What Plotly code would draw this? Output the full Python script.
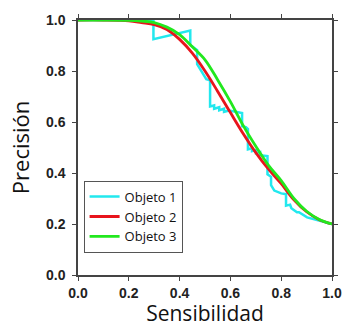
import plotly.graph_objects as go

# ---- data ----
series_names = ["Objeto 1", "Objeto 2", "Objeto 3"]
series_colors = ["#22e8ee", "#e8141c", "#22e81e"]

obj1_x = [0.0, 0.297, 0.297, 0.414, 0.442, 0.442, 0.469, 0.469, 0.489, 0.505, 0.520,
          0.520, 0.536, 0.536, 0.556, 0.556, 0.575, 0.575, 0.595, 0.638, 0.646,
          0.646, 0.661, 0.669, 0.669, 0.685, 0.685, 0.701, 0.701, 0.717, 0.717, 0.746,
          0.746, 0.760, 0.760, 0.773, 0.800, 0.819, 0.819, 0.835, 0.840, 0.862, 0.870,
          0.902, 0.945, 1.0]
obj1_y = [1.0, 1.0, 0.925, 0.953, 0.959, 0.902, 0.882, 0.827, 0.796, 0.768, 0.764,
          0.661, 0.665, 0.652, 0.658, 0.646, 0.652, 0.640, 0.645, 0.639, 0.635,
          0.583, 0.580, 0.572, 0.493, 0.497, 0.486, 0.490, 0.478, 0.482, 0.470, 0.466,
          0.395, 0.385, 0.352, 0.331, 0.320, 0.317, 0.272, 0.276, 0.262, 0.246, 0.246,
          0.226, 0.214, 0.2]

smooth_x = [0.0, 0.1, 0.2, 0.25, 0.3, 0.35, 0.4, 0.45, 0.5, 0.55, 0.6, 0.65, 0.7,
            0.75, 0.8, 0.85, 0.9, 0.95, 1.0]
obj2_y = [1.0, 1.0, 0.997, 0.99, 0.982, 0.963, 0.924, 0.87, 0.80, 0.72, 0.637, 0.555,
          0.48, 0.415, 0.358, 0.295, 0.248, 0.217, 0.2]
obj3_y = [1.0, 1.0, 0.999, 0.996, 0.99, 0.972, 0.943, 0.895, 0.844, 0.765, 0.68, 0.587,
          0.505, 0.43, 0.37, 0.30, 0.25, 0.218, 0.2]

tick_vals = [0.0, 0.2, 0.4, 0.6, 0.8, 1.0]
tick_text = ["0.0", "0.2", "0.4", "0.6", "0.8", "1.0"]
x_title = "Sensibilidad"
y_title = "Precisión"

fig = go.Figure()
fig.add_trace(go.Scatter(x=obj1_x, y=obj1_y, mode="lines", name=series_names[0],
                         line=dict(color=series_colors[0], width=2.5)))
fig.add_trace(go.Scatter(x=smooth_x, y=obj2_y, mode="lines", name=series_names[1],
                         line=dict(color=series_colors[1], width=2.8, shape="spline")))
fig.add_trace(go.Scatter(x=smooth_x, y=obj3_y, mode="lines", name=series_names[2],
                         line=dict(color=series_colors[2], width=2.8, shape="spline")))

axis_common = dict(
    range=[0, 1], tickvals=tick_vals, ticktext=tick_text,
    showgrid=False, zeroline=False, automargin=False,
    showline=True, linecolor="#444", linewidth=1.5, mirror="allticks",
    ticks="outside", ticklen=4, tickcolor="#444", tickwidth=1,
    tickfont=dict(family="Liberation Sans", size=14, color="#222", weight="bold"),
)

fig.update_layout(
    width=343, height=327,
    margin=dict(l=78, r=11, t=20, b=52),
    paper_bgcolor="white", plot_bgcolor="white",
    xaxis=dict(**axis_common, ticklabelstandoff=0,
               title=dict(text=x_title, font=dict(family="Open Sans", size=21, color="#111"),
                          standoff=3)),
    yaxis=dict(**axis_common, ticklabelstandoff=4,
               title=dict(text=y_title, font=dict(family="Open Sans", size=22, color="#111"),
                          standoff=10)),
    legend=dict(x=0.022, y=0.37, xanchor="left", yanchor="top",
                bgcolor="white", bordercolor="#555", borderwidth=1,
                font=dict(family="Open Sans", size=13, color="#111"),
                tracegroupgap=0, itemwidth=30),
    showlegend=True,
)

# remove the default page margin so the figure fills the 343x327 window exactly
fig.write_html("out.html", config={"displayModeBar": False},
               post_script="document.body.style.margin='0';document.body.style.overflow='hidden';")
